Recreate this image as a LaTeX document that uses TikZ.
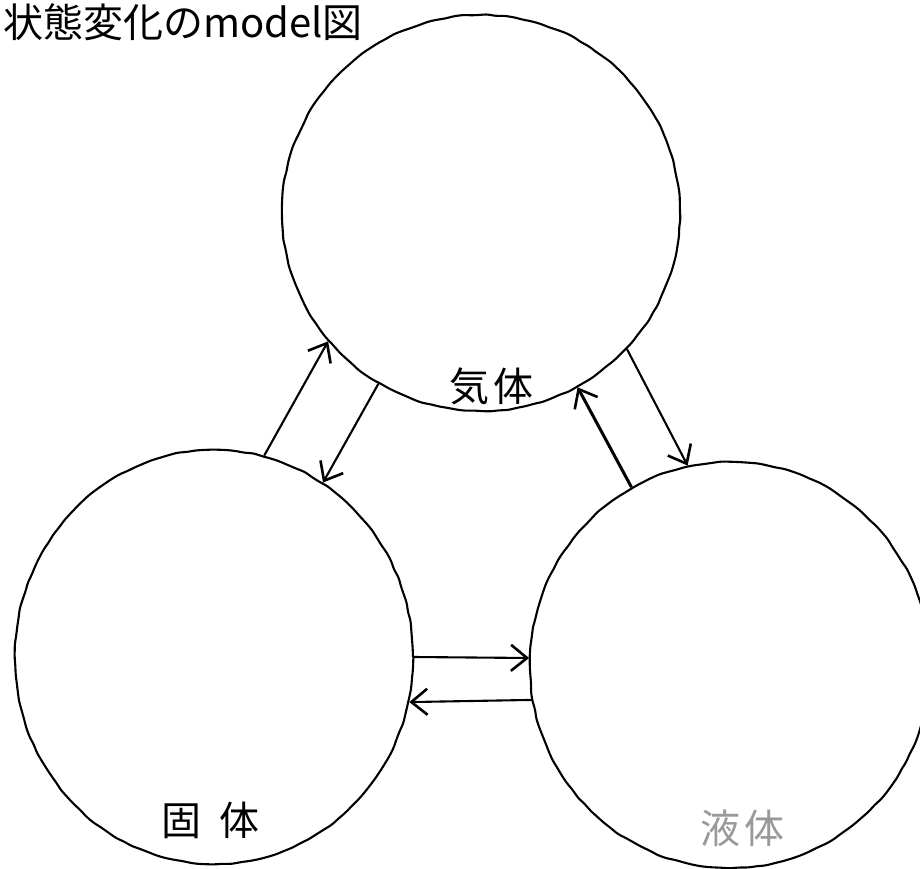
\documentclass[tikz,border=0pt]{standalone}
\usepackage{fontspec}
\newfontfamily\jp{Noto Sans CJK JP}
\usetikzlibrary{shapes.geometric,arrows.meta,decorations.pathmorphing}

\begin{document}
\pgfmathsetseed{7}
\begin{tikzpicture}[x=1pt,y=-1pt,
  phase/.style={draw, ellipse, line width=2.1pt, inner sep=0pt,
    decorate, decoration={random steps, segment length=9pt, amplitude=0.6pt},
    rounded corners=3pt},
  change/.style={line width=2.1pt,
    -{Straight Barb[length=16pt,width=26pt,line width=2.6pt]}},
  phasename/.style={font=\jp\fontsize{40}{40}\selectfont, inner sep=0pt}
]
\useasboundingbox (0,0) rectangle (920,869);

% the three states of matter
\node[phase, minimum width=398pt, minimum height=396pt] (gas)    at (481,213) {};
\node[phase, minimum width=398pt, minimum height=414pt] (solid)  at (214,657) {};
\node[phase, minimum width=400pt, minimum height=406pt] (liquid) at (730,665) {};

% state changes between them
\draw[change] (solid.76.8) -- (gas.220.4);
\draw[change] (gas.239.3) -- (solid.58.6);
\draw[change, line width=3pt] (liquid.119.25) -- (gas.299.5);
\draw[change] (gas.317) -- (liquid.102);
\draw[change] (solid.0) -- (liquid.178);
\draw[change] (liquid.190.4) -- (solid.347);

% names of the states
\node[phasename] (gasname) at (491,386) {気\hspace{4pt}体};
\node[phasename] (solidname) at (210,820) {固\hspace{18pt}体};
\node[phasename, text=black!40] (liquidname) at (742,828) {液\hspace{4pt}体};

% heading
\node[anchor=north west, font=\jp\fontsize{40}{40}\selectfont, inner sep=0pt] (title)
  at (3,4) {状態変化のmodel図};
\end{tikzpicture}
\end{document}
